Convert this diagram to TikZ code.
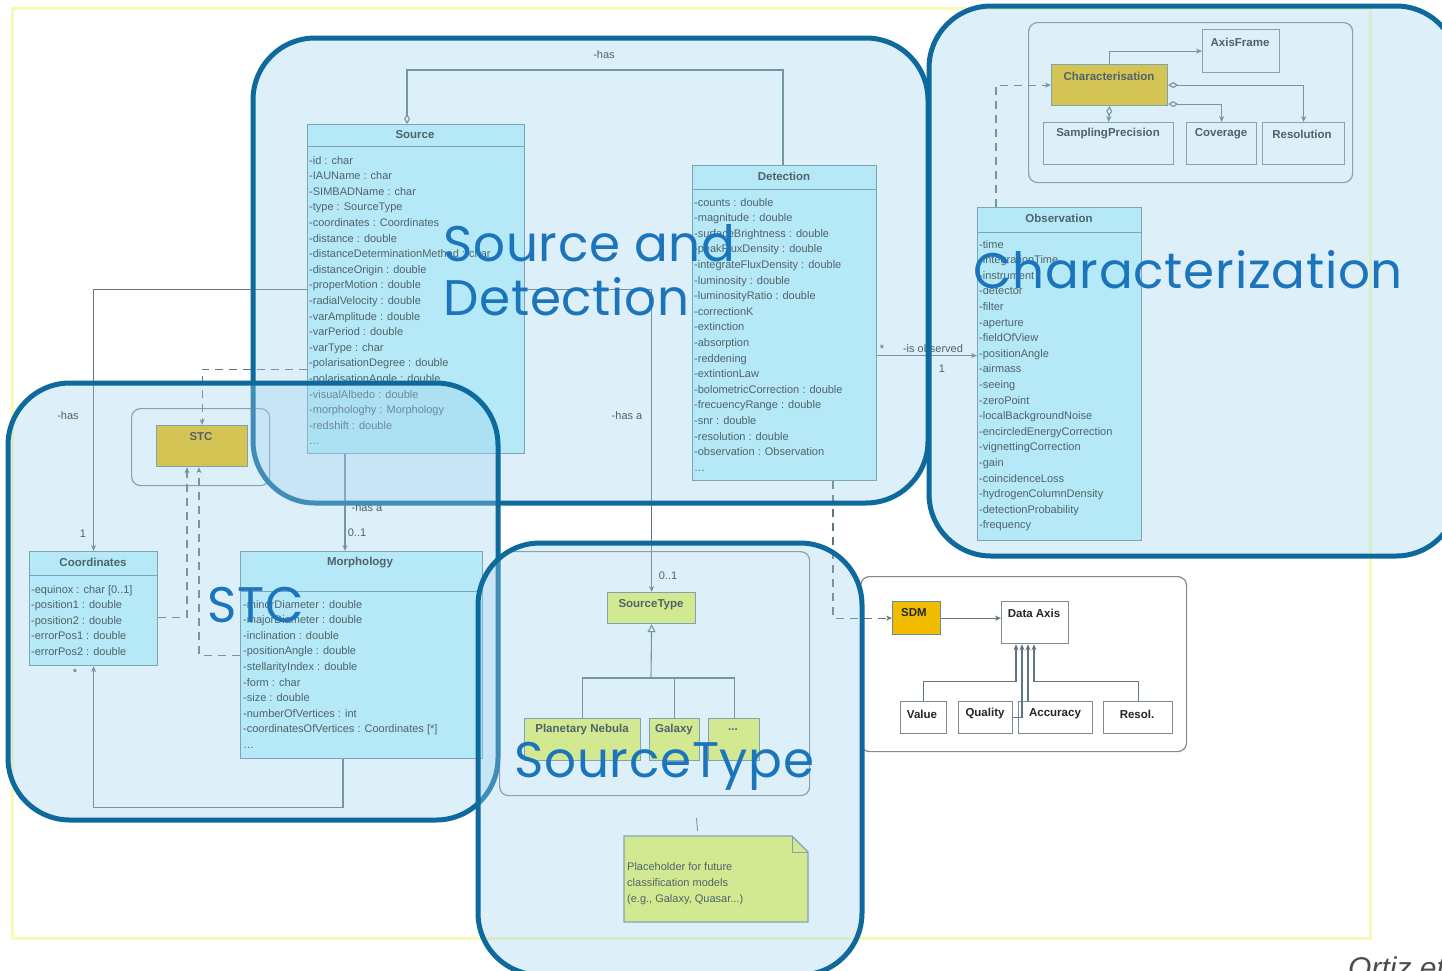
\documentclass[tikz,border=0pt]{standalone}
\usepackage{fontspec}
\setmainfont{Liberation Sans}
\newfontfamily\labelfont[LetterSpace=1.5]{Poppins}
\usetikzlibrary{arrows.meta}
\definecolor{clsfill}{HTML}{C2F6FC}
\definecolor{clsborder}{HTML}{6E8B94}
\definecolor{pkgborder}{HTML}{7D8A90}
\definecolor{txt}{HTML}{262626}
\definecolor{linecol}{HTML}{5F7580}
\definecolor{darkyellow}{HTML}{F2BC00}
\definecolor{lightyellow}{HTML}{EEF660}
\definecolor{regionfill}{HTML}{9ED3EE}
\definecolor{regionline}{HTML}{0E6A9C}
\definecolor{labelblue}{HTML}{1B75BC}
\definecolor{framecol}{HTML}{F8F8B8}
\newcommand\attrfont{\fontsize{11}{13}\selectfont}
\newcommand\ttlfont{\fontsize{11.5}{13}\selectfont\bfseries}
\newcommand\bigfont{\labelfont\fontsize{50}{60}\selectfont}
\begin{document}
\begin{tikzpicture}[x=1pt,y=-1pt,
 cls/.style={draw=clsborder,fill=clsfill,line width=1.2pt,inner sep=0,anchor=north west},
 hdr/.style={draw=clsborder,line width=1pt},
 attr/.style={font=\attrfont,text=txt,inner sep=0,anchor=base west},
 ttl/.style={font=\ttlfont,text=txt,inner sep=0},
 pkg/.style={draw=pkgborder,fill=white,line width=1.2pt,rounded corners=9pt,inner sep=0,anchor=north west},
 dbox/.style={draw=clsborder,fill=darkyellow,line width=1.2pt,inner sep=0,anchor=north west},
 lbox/.style={draw=clsborder,fill=lightyellow,line width=1.2pt,inner sep=0,anchor=north west},
 wbox/.style={draw=pkgborder,fill=white,line width=1.2pt,inner sep=0,anchor=north west},
 assoc/.style={draw=linecol,line width=1.1pt},
 dep/.style={assoc,dash pattern=on 8pt off 6pt},
 arr/.style={-{Stealth[length=6pt,width=5pt]}},
 dia/.style={{Diamond[fill=white,length=10pt,width=6pt]}-},
 diaarr/.style={{Diamond[fill=white,length=10pt,width=6pt]}-{Stealth[length=6pt,width=5pt]}},
 lbl/.style={font=\attrfont,text=txt,inner sep=0},
 region/.style={draw=regionline,line width=5pt,fill=regionfill,fill opacity=0.35,rounded corners=62pt},
 big/.style={font=\bigfont,text=labelblue,inner sep=0,anchor=base west},
]
\useasboundingbox (0,0) rectangle (1442,970);
\fill[white] (0,0) rectangle (1442,970);
\draw[framecol,line width=3pt] (12,8) rectangle (1370,938);

% ---------- packages ----------
\node[pkg,minimum width=324pt,minimum height=160pt] (charpkg) at (1028,22) {};
\node[pkg,minimum width=138pt,minimum height=77pt] (stcpkg) at (131,408) {};
\node[pkg,minimum width=310pt,minimum height=244pt] (stpkg) at (499,551) {};
\node[pkg,minimum width=326pt,minimum height=175pt] (sdmpkg) at (860,576) {};

% ---------- Source ----------
\node[cls,minimum width=217pt,minimum height=329pt] (source) at (307,124) {};
\draw[hdr] (307,146) -- (524,146);
\node[ttl] (source-t) at (415,135) {Source};
\foreach \lbl [count=\ii from 0] in {-id : char, -IAUName : char, -SIMBADName : char, -type : SourceType, -coordinates : Coordinates, -distance : double, -distanceDeterminationMethod : char, -distanceOrigin : double, -properMotion : double, -radialVelocity : double, -varAmplitude : double, -varPeriod : double, -varType : char, -polarisationDegree : double, -polarisationAngle : double, -visualAlbedo : double, -morphologhy : Morphology, -redshift : double, \ldots}
  \node[attr] (source-\ii) at (309,{164+15.6*\ii}) {\lbl};

% ---------- Detection ----------
\node[cls,minimum width=184pt,minimum height=315pt] (detection) at (692,165) {};
\draw[hdr] (692,189) -- (876,189);
\node[ttl] (detection-t) at (784,176) {Detection};
\foreach \lbl [count=\ii from 0] in {-counts : double, -magnitude : double, -surfaceBrightness : double, -peakFluxDensity : double, -integrateFluxDensity : double, -luminosity : double, -luminosityRatio : double, -correctionK, -extinction, -absorption, -reddening, -extintionLaw, -bolometricCorrection : double, -frecuencyRange : double, -snr : double, -resolution : double, -observation : Observation, \ldots}
  \node[attr] (detection-\ii) at (694,{206+15.6*\ii}) {\lbl};

% ---------- Observation ----------
\node[cls,minimum width=164pt,minimum height=333pt] (observation) at (977,207) {};
\draw[hdr] (977,232) -- (1141,232);
\node[ttl] (observation-t) at (1059,218) {Observation};
\foreach \lbl [count=\ii from 0] in {-time, -integrationTime, -instrument, -detector, -filter, -aperture, -fieldOfView, -positionAngle, -airmass, -seeing, -zeroPoint, -localBackgroundNoise, -encircledEnergyCorrection, -vignettingCorrection, -gain, -coincidenceLoss, -hydrogenColumnDensity, -detectionProbability, -frequency}
  \node[attr] (observation-\ii) at (979,{248+15.6*\ii}) {\lbl};

% ---------- Coordinates ----------
\node[cls,minimum width=128pt,minimum height=114pt] (coord) at (29,551) {};
\draw[hdr] (29,575) -- (157,575);
\node[ttl] (coord-t) at (93,562) {Coordinates};
\foreach \lbl [count=\ii from 0] in {-equinox : char [0..1], -position1 : double, -position2 : double, -errorPos1 : double, -errorPos2 : double}
  \node[attr] (coord-\ii) at (31,{593+15.6*\ii}) {\lbl};

% ---------- Morphology ----------
\node[cls,minimum width=242pt,minimum height=207pt] (morph) at (240,551) {};
\draw[hdr] (240,591) -- (482,591);
\node[ttl] (morph-t) at (360,563) {Morphology};
\foreach \lbl [count=\ii from 0] in {-minorDiameter : double, -majorDiameter : double, -inclination : double, -positionAngle : double, -stellarityIndex : double, -form : char, -size : double, -numberOfVertices : int, -coordinatesOfVertices : Coordinates [*], \ldots}
  \node[attr] (morph-\ii) at (243,{608+15.6*\ii}) {\lbl};

% ---------- STC ----------
\node[dbox,minimum width=91pt,minimum height=41pt] (stc) at (156,425) {};
\node[ttl] (stc-t) at (201,437) {STC};

% ---------- Characterisation package ----------
\node[dbox,minimum width=116pt,minimum height=41pt] (charbox) at (1051,64) {};
\node[ttl] (charbox-t) at (1109,76) {Characterisation};
\node[wbox,minimum width=77pt,minimum height=43pt] (axisframe) at (1202,29) {};
\node[ttl] (axisframe-t) at (1240,42) {AxisFrame};
\node[wbox,minimum width=130pt,minimum height=42pt] (sampling) at (1043,122) {};
\node[ttl] (sampling-t) at (1108,134) {SamplingPrecision};
\node[wbox,minimum width=70pt,minimum height=42pt] (coverage) at (1186,122) {};
\node[ttl] (coverage-t) at (1221,134) {Coverage};
\node[wbox,minimum width=82pt,minimum height=42pt] (resolution) at (1262,122) {};
\node[ttl] (resolution-t) at (1302,134) {Resolution};

\draw[assoc,arr] (charbox.north) |- (axisframe.west);
\draw[assoc,diaarr] (charbox.east) -| (resolution.north);
\draw[assoc,diaarr] ([yshift=-19pt]charbox.east) -| (coverage.north);
\draw[assoc,diaarr] (charbox.south) -- (sampling.north);

% ---------- SourceType package ----------
\node[lbox,minimum width=88pt,minimum height=31pt] (stype) at (607,592) {};
\node[ttl] (stype-t) at (651,605) {SourceType};
\node[lbox,minimum width=116pt,minimum height=42pt] (pn) at (524,718) {};
\node[ttl] (pn-t) at (582,730) {Planetary Nebula};
\node[lbox,minimum width=50pt,minimum height=42pt] (gal) at (649,718) {};
\node[ttl] (gal-t) at (674,730) {Galaxy};
\node[lbox,minimum width=51pt,minimum height=42pt] (dots) at (708,718) {};
\node[ttl] (dots-t) at (733,730) {...};
\coordinate (fork) at (651,678);
\draw[assoc] (pn.north) |- (fork) -| (dots.north);
\draw[assoc] (gal.north) -- (gal.north |- fork);
\draw[assoc,-{Triangle[open,fill=white,length=8pt,width=8pt]}] (fork) -- (stype.south);

% note
\fill[lightyellow] (624,836) -- (792,836) -- (808,852) -- (808,922) -- (624,922) -- cycle;
\draw[clsborder,line width=1.2pt] (624,836) -- (792,836) -- (808,852) -- (808,922) -- (624,922) -- cycle;
\draw[clsborder,line width=1pt] (792,836) -- (792,852) -- (808,852);
\node[inner sep=0] (note) at (716,879) {};
\node[attr] (note-1) at (627,870) {Placeholder for future};
\node[attr] (note-2) at (627,886) {classification models};
\node[attr] (note-3) at (627,902) {(e.g., Galaxy, Quasar...)};
\draw[assoc,line width=0.9pt,shorten <=22pt,shorten >=5pt] ([xshift=40pt]stpkg.south) -- ([xshift=-18pt]note.north |- 0,836);

% ---------- SDM package ----------
\node[dbox,minimum width=48pt,minimum height=33pt] (sdm) at (892,601) {};
\node[ttl] (sdm-t) at (914,613) {SDM};
\node[wbox,minimum width=67pt,minimum height=42pt] (daxis) at (1001,601) {};
\node[ttl] (daxis-t) at (1034,613) {Data Axis};
\node[wbox,minimum width=46pt,minimum height=32pt] (value) at (900,701) {};
\node[ttl] (value-t) at (922,714) {Value};
\node[wbox,minimum width=54pt,minimum height=32pt] (quality) at (958,701) {};
\node[ttl] (quality-t) at (985,714) {Quality};
\node[wbox,minimum width=74pt,minimum height=32pt] (accuracy) at (1018,701) {};
\node[ttl] (accuracy-t) at (1055,714) {Accuracy};
\node[wbox,minimum width=69pt,minimum height=32pt] (resol) at (1103,701) {};
\node[ttl] (resol-t) at (1137,714) {Resol.};
\draw[assoc,arr] (sdm.east) -- (sdm.east -| daxis.west);
\draw[assoc,arr] (value.north) |- ([xshift=15pt,yshift=-37pt]daxis.south west) -- ([xshift=15pt]daxis.south west);
\draw[assoc,arr] (resol.north) |- ([xshift=33pt,yshift=-37pt]daxis.south west) -- ([xshift=33pt]daxis.south west);
\draw[assoc,arr] ([xshift=10pt]accuracy.north west) -- ([xshift=27pt]daxis.south west);
\draw[assoc,arr] (quality.east) -| ([xshift=21pt]daxis.south west);

% ---------- connectors ----------
\draw[assoc,dia] ([xshift=100pt]source.north west) -- ++(0,-54) -| ([xshift=91pt]detection.north west);
\node[lbl] (has1) at (604,55) {-has};
\draw[assoc,arr] (source.west) -| (coord.north);
\node[lbl] (has2) at (68,416) {-has};
\node[lbl] (one1) at (83,534) {1};
\draw[dep,arr] ([yshift=-80pt]source.west) -| (stc.north);
\draw[assoc,arr] (source.east) -| (stype.north);
\node[lbl] (hasa1) at (627,416) {-has a};
\node[lbl] (zo1) at (668,576) {0..1};
\draw[assoc,arr] ([xshift=38pt]source.south west) -- ([xshift=105pt]morph.north west);
\node[lbl] (hasa2) at (367,508) {-has a};
\node[lbl] (zo2) at (357,533) {0..1};
\draw[assoc,arr] ([xshift=103pt]morph.south west) -- ++(0,48) -| (coord.south);
\node[lbl] (star1) at (75,673) {*};
\draw[dep,arr] ([yshift=-9pt]coord.east) -| ([xshift=31pt]stc.south west);
\draw[dep,arr] (morph.west) -| ([xshift=43pt]stc.south west);
\draw[assoc,arr] ([yshift=-32.5pt]detection.east) -- ([yshift=18.5pt]observation.west);
\node[lbl] (star2) at (882,349) {*};
\node[lbl] (isobs) at (933,349) {-is observed};
\node[lbl] (one2) at (942,369) {1};
\draw[dep,arr] ([xshift=141pt]detection.south west) |- (sdm.west);
\draw[dep,arr] ([xshift=19pt]observation.north west) |- (charbox.west);

% ---------- regions ----------
\path[region] (253,38) rectangle (928,503);
\path[region] (929,6) rectangle (1458,556);
\path[region] (8,383) rectangle (498,820);
\path[region] (478,543) rectangle (862,975);

\node[big] (lab-sd1) at (443,261) {Source and};
\node[big] (lab-sd2) at (443,315) {Detection};
\node[big] (lab-ch) at (973,288) {Characterization};
\node[big] (lab-stc) at (207,622) {STC};
\node[big] (lab-st) at (514,777) {SourceType};

\node[font=\itshape\fontsize{30}{32}\selectfont,text=black!70,inner sep=0,anchor=base west] (credit) at (1348,978) {Ortiz et al.};
\end{tikzpicture}
\end{document}
